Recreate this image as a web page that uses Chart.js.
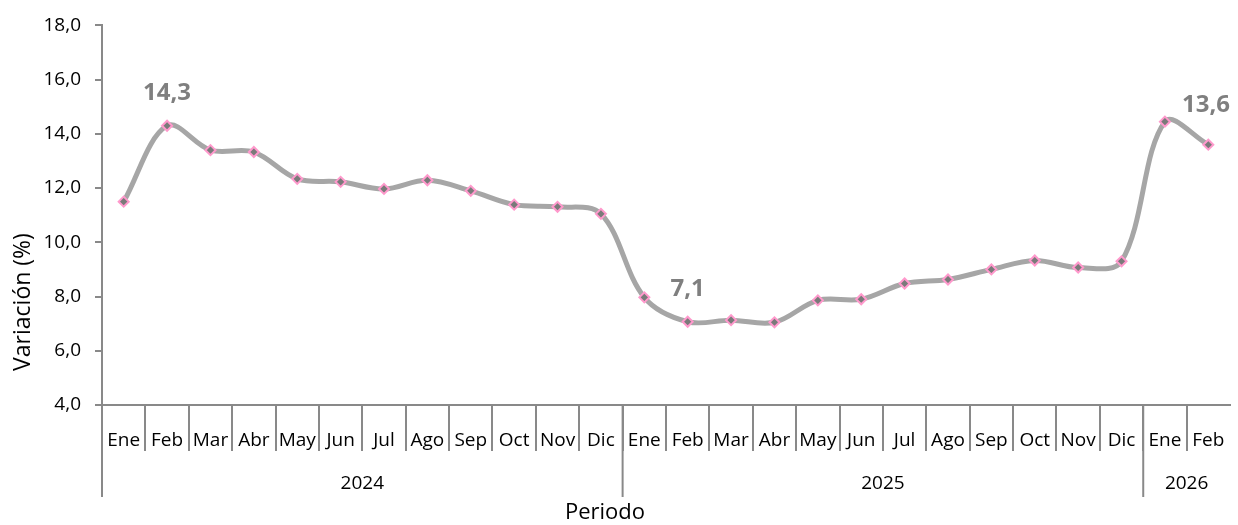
<!DOCTYPE html>
<html>
<head>
<meta charset="utf-8">
<script src="https://cdn.jsdelivr.net/npm/chart.js@4.4.1/dist/chart.umd.min.js"></script>
<style>
  html, body { margin: 0; padding: 0; background: #fff; }
  #wrap { width: 1238px; height: 525px; position: relative; }
</style>
</head>
<body>
<div id="wrap"><canvas id="chart"></canvas></div>
<script>
// data
const months = [
  'Ene', 'Feb', 'Mar', 'Abr', 'May', 'Jun', 'Jul', 'Ago', 'Sep', 'Oct', 'Nov', 'Dic',
  'Ene', 'Feb', 'Mar', 'Abr', 'May', 'Jun', 'Jul', 'Ago', 'Sep', 'Oct', 'Nov', 'Dic',
  'Ene', 'Feb',
]
const years = ['2024', '2025', '2026']
const monthsPerYear = [12, 12, 2]
const variacion = [
  11.5, 14.3, 13.4, 13.33, 12.34, 12.23, 11.97, 12.29, 11.9, 11.39, 11.31, 11.05,
  7.97, 7.07, 7.13, 7.05, 7.86, 7.9, 8.48, 8.63, 9.0, 9.33, 9.07, 9.3,
  14.45, 13.6,
]
const labeledPoints = [1, 13, 25]
const yMin = 4
const yMax = 18
const yStep = 2

const axisColor = '#898989'
const fontFamily = '"Open Sans", sans-serif'
const fmt = (v) => Number(v).toFixed(1).replace('.', ',')

// draws the year row, axis titles and the value labels
const extrasPlugin = {
  id: 'extras',
  afterDraw(chart) {
    const { ctx } = chart
    const x = chart.scales.x
    const y = chart.scales.y
    const cat = x.width / months.length
    const bottom = y.bottom + 92

    ctx.save()
    ctx.strokeStyle = axisColor
    ctx.lineWidth = 2

    // left axis continues down through both label rows
    ctx.beginPath()
    ctx.moveTo(x.left, y.bottom)
    ctx.lineTo(x.left, bottom)
    ctx.stroke()

    ctx.font = '19px ' + fontFamily
    ctx.fillStyle = '#000'
    ctx.textAlign = 'center'
    ctx.textBaseline = 'middle'

    let start = 0
    monthsPerYear.forEach((n, i) => {
      const x0 = x.getPixelForValue(start) - cat / 2
      const x1 = x.getPixelForValue(start + n - 1) + cat / 2
      if (i > 0) {
        ctx.beginPath()
        ctx.moveTo(x0, y.bottom)
        ctx.lineTo(x0, bottom)
        ctx.stroke()
      }
      ctx.fillText(years[i], (x0 + x1) / 2, y.bottom + 79)
      start += n
    })

    // axis titles
    ctx.font = '22px ' + fontFamily
    ctx.fillText('Periodo', 605, 513)
    ctx.save()
    ctx.translate(23, 302)
    ctx.rotate(-Math.PI / 2)
    ctx.font = '23px ' + fontFamily
    ctx.fillText('Variación (%)', 0, 0)
    ctx.restore()

    // value labels
    const meta = chart.getDatasetMeta(0)
    ctx.font = 'bold 24px ' + fontFamily
    ctx.fillStyle = '#7f7f7f'
    labeledPoints.forEach((i) => {
      const pt = meta.data[i]
      const text = fmt(variacion[i])
      const w = ctx.measureText(text).width
      let cx = pt.x
      let dy = 33
      if (cx + w / 2 > x.right) {
        cx = x.right - w / 2
        dy = 40
      }
      ctx.fillText(text, cx, pt.y - dy)
    })
    ctx.restore()
  },
}

new Chart(document.getElementById('chart'), {
  type: 'line',
  data: {
    labels: months,
    datasets: [
      {
        data: variacion,
        borderColor: '#a6a6a6',
        borderWidth: 5,
        tension: 0.35,
        pointStyle: 'rectRot',
        pointRadius: 5,
        pointBackgroundColor: '#7a7a7a',
        pointBorderColor: '#ff99cc',
        pointBorderWidth: 2,
        clip: false,
      },
    ],
  },
  options: {
    responsive: true,
    maintainAspectRatio: false,
    animation: false,
    layout: { padding: { top: 24, right: 8, left: 0, bottom: 0 } },
    plugins: {
      legend: { display: false },
      tooltip: { enabled: false },
    },
    scales: {
      x: {
        offset: true,
        grid: {
          offset: true,
          drawOnChartArea: false,
          tickLength: 46,
          lineWidth: 2,
          color: (c) => (c.tick ? axisColor : 'rgba(0,0,0,0)'),
        },
        border: { color: axisColor, width: 2 },
        ticks: {
          padding: -22,
          autoSkip: false,
          maxRotation: 0,
          color: '#000',
          font: { family: fontFamily, size: 19 },
        },
        afterFit: (s) => {
          s.height = 120
        },
      },
      y: {
        min: yMin,
        max: yMax,
        ticks: {
          stepSize: yStep,
          padding: 14,
          color: '#000',
          font: { family: fontFamily, size: 19 },
          callback: (v) => fmt(v),
        },
        grid: {
          drawOnChartArea: false,
          tickLength: 7,
          lineWidth: 2,
          color: axisColor,
        },
        border: { color: axisColor, width: 2 },
        afterFit: (s) => {
          s.width = 102
        },
      },
    },
  },
  plugins: [extrasPlugin],
})
</script>
</body>
</html>
